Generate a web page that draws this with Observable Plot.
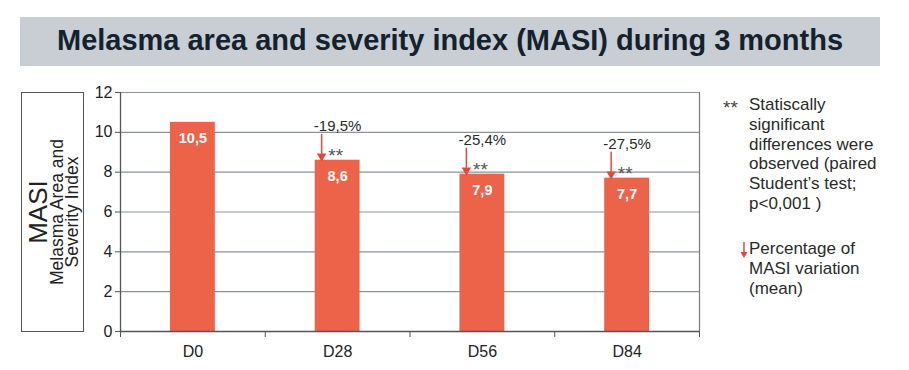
<!DOCTYPE html>
<html>
<head>
<meta charset="utf-8">
<script src="https://cdn.jsdelivr.net/npm/d3@7"></script>
<script src="https://cdn.jsdelivr.net/npm/@observablehq/plot@0.6"></script>
<style>
  html, body { margin: 0; padding: 0; background: #fff; }
  #wrap { position: relative; width: 909px; height: 370px; overflow: hidden; font-family: "Liberation Sans", Arial, sans-serif; }
  #title { position: absolute; left: 20px; top: 17px; width: 860px; height: 49px; background: #c8ced4; }
  #title span { position: absolute; left: 50%; top: 6px; white-space: nowrap; font-size: 30px; font-weight: bold; color: #13222e; transform-origin: center; }
  #ybox { position: absolute; left: 21px; top: 92px; width: 61px; height: 238px; border: 1.5px solid #555; }
  #ybox .rot { position: absolute; left: 50%; top: 50%; transform: translate(-50%, -50%) rotate(-90deg); text-align: center; white-space: nowrap; color: #222; }
  #ybox .big { font-size: 26px; line-height: 24px; }
  #ybox .small { font-size: 17.5px; line-height: 15px; }
  #chart { position: absolute; left: 0; top: 70px; }
  .legend { position: absolute; left: 749px; font-size: 17px; line-height: 19.8px; color: #2a2a2a; }
  .legend .mark { position: absolute; left: -26px; top: 3px; color: #444; font-size: 19px; }
</style>
</head>
<body>
<div id="wrap">
  <div id="title"><span id="titletext">Melasma area and severity index (MASI) during 3 months</span></div>
  <div id="ybox"><div class="rot"><div class="big">MASI</div><div class="small">Melasma Area and<br>Severity Index</div></div></div>
  <div id="chart"></div>
  <div class="legend" style="top:95px;"><span class="mark">**</span>Statiscally<br>significant<br>differences were<br>observed (paired<br>Student’s test;<br>p&lt;0,001 )</div>
  <div class="legend" style="top:239px;"><svg style="position:absolute;left:-9px;top:3px" width="8" height="16"><line x1="4" y1="0" x2="4" y2="11" stroke="#e0483a" stroke-width="1.5"/><path d="M0.5,10 L7.5,10 L4,16 Z" fill="#e0483a"/></svg>Percentage of<br>MASI variation<br>(mean)</div>
</div>
<script>
const categories = ["D0", "D28", "D56", "D84"];
const values = [10.5, 8.6, 7.9, 7.7];
const valueLabels = ["10,5", "8,6", "7,9", "7,7"];
const changeLabels = [null, "-19,5%", "-25,4%", "-27,5%"];
const yTicks = [0, 2, 4, 6, 8, 10, 12];

const data = categories.map((c, i) => ({i, cat: c, value: values[i], label: valueLabels[i], change: changeLabels[i]}));
const changed = data.filter(d => d.change);

const barColor = "#ed634a";
const arrowColor = "#e0483a";
const half = 0.155;

const chart = Plot.plot({
  width: 909,
  height: 300,
  marginLeft: 120,
  marginRight: 210,
  marginTop: 22,
  marginBottom: 39,
  style: {fontFamily: "Liberation Sans, Arial, sans-serif", fontSize: "16px", color: "#222", background: "transparent"},
  x: {domain: [-0.5, 3.5], axis: null},
  y: {domain: [0, 12], axis: null},
  marks: [
    Plot.ruleY(yTicks.filter(t => t > 0), {stroke: "#8b9298", strokeWidth: 1.2}),
    Plot.rectY(data, {x1: d => d.i - half, x2: d => d.i + half, y1: 0, y2: "value", fill: barColor}),
    Plot.ruleX([-0.5], {stroke: "#555", strokeWidth: 1.3}),
    Plot.ruleX([3.5], {stroke: "#777", strokeWidth: 1.2}),
    Plot.ruleY([0], {stroke: "#555", strokeWidth: 1.3}),
    Plot.axisY({ticks: yTicks, tickSize: 5, tickPadding: 3, fontSize: 16, label: null, stroke: "#555", fill: "#222"}),
    Plot.axisX({ticks: [-0.5, 0.5, 1.5, 2.5, 3.5], tickFormat: () => "", tickSize: 6, label: null, stroke: "#555"}),
    Plot.axisX({ticks: [0, 1, 2, 3], tickFormat: i => categories[i], tickSize: 0, tickPadding: 14, fontSize: 16, label: null, fill: "#222"}),
    Plot.text(data, {x: "i", y: "value", text: "label", dy: 16, fill: "white", fontWeight: "bold", fontSize: 14.5}),
    Plot.text(changed, {x: "i", y: "value", text: "change", dy: -34, fill: "#2a2a2a", fontSize: 15}),
    Plot.text(changed, {x: "i", y: "value", text: () => "**", dx: -2, dy: -4, fill: "#555", fontSize: 19}),
    Plot.ruleX(changed, {x: "i", y1: d => d.value + 0.3, y2: d => d.value + 1.3, dx: -16, stroke: arrowColor, strokeWidth: 1.5}),
    Plot.dot(changed, {x: "i", y: "value", dx: -16, dy: -4, symbol: "triangle", rotate: 180, r: 3.5, fill: arrowColor, stroke: "none"})
  ]
});
document.getElementById("chart").appendChild(chart);

const t = document.getElementById("titletext");
const w = t.getBoundingClientRect().width;
t.style.transform = `translateX(-50%) scaleX(${786 / w})`;
</script>
</body>
</html>
